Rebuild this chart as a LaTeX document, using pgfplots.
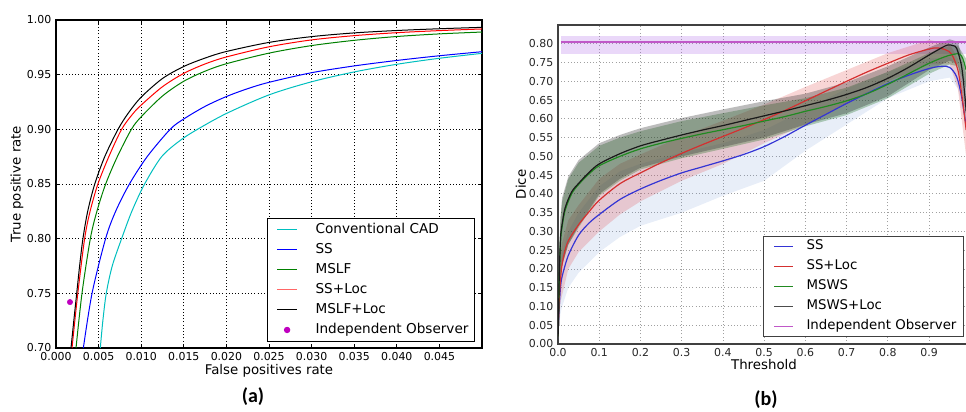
\documentclass[border=0pt]{standalone}
\usepackage{fontspec}
\setmainfont{DejaVu Sans}
\newfontfamily\capfont{Carlito}
\usepackage{pgfplots}
\pgfplotsset{compat=1.18}

\definecolor{mcyan}{HTML}{00BFBF}
\definecolor{mgreen}{HTML}{008000}
\definecolor{mmag}{HTML}{BF00BF}
\definecolor{bblue}{HTML}{3434D4}
\definecolor{bred}{HTML}{D43030}
\definecolor{bgreen}{HTML}{218A21}
\definecolor{bblack}{HTML}{1A1A1A}
\definecolor{bviolet}{HTML}{C058C8}
\definecolor{obsband}{HTML}{AA64E6}
\definecolor{blueband}{HTML}{6E93D6}
\definecolor{redband}{HTML}{E04040}
\definecolor{greenband}{HTML}{1A6B1A}
\definecolor{grayband}{HTML}{222222}
\definecolor{gridb}{HTML}{A0A0A0}

\pgfplotsset{
  band/.style={draw=none, fill=#1, forget plot},
  limga/.style={legend image code/.code={\path (0pt,0pt);
    \draw[draw=#1, line width=0.75pt] (2.25pt,0pt) -- (17.25pt,0pt);}},
  limgb/.style={legend image code/.code={\path (0pt,0pt);
    \draw[draw=#1, line width=0.8pt] (2.25pt,0pt) -- (16.5pt,0pt);}},
}

\begin{document}
\begin{tikzpicture}
\path[use as bounding box] (0pt,0pt) rectangle (724.5pt,308.25pt);

% ---------------- (a) ROC ----------------
\begin{axis}[
  at={(42pt,47.25pt)}, anchor=south west,
  scale only axis, width=319.5pt, height=246pt,
  xmin=0, xmax=0.05, ymin=0.70, ymax=1.00,
  xtick={0,0.005,0.01,0.015,0.02,0.025,0.03,0.035,0.04,0.045},
  ytick={0.70,0.75,0.80,0.85,0.90,0.95,1.00},
  scaled x ticks=false, scaled y ticks=false,
  x tick label style={/pgf/number format/.cd, fixed, fixed zerofill, precision=3, assume math mode=true, /tikz/.cd},
  y tick label style={/pgf/number format/.cd, fixed, fixed zerofill, precision=2, assume math mode=true, /tikz/.cd},
  tick label style={font=\fontsize{8.2}{9}\selectfont},
  grid=major, grid style={black, line width=0.6pt, dash pattern=on 0.8pt off 1.6pt},
  tick align=inside, major tick length=3pt, tick style={black, line width=0.6pt},
  axis line style={line width=0.9pt},
  xlabel={False positives rate}, ylabel={True positive rate},
  label style={font=\fontsize{8.4}{10}\selectfont},
  every axis x label/.style={at={(axis description cs:0.5,-0.0701)}, anchor=center},
  every axis y label/.style={at={(axis description cs:-0.0915,0.5)}, anchor=center, rotate=90},
  legend cell align=left,
  legend style={at={(0.9836,0.0183)}, anchor=south east, draw=black, line width=0.75pt,
    inner xsep=4.5pt, inner ysep=3.4pt, row sep=4.5pt,
    font=\fontsize{10.2}{12}\selectfont,
    nodes={inner sep=0pt, text height=7.8pt, text depth=2.7pt},
    /tikz/every odd column/.style={column sep=11.25pt}},
]
\addplot[mcyan, line width=0.75pt, smooth, limga=mcyan] coordinates {
 (0.0052,0.70) (0.0055,0.725) (0.0059,0.75) (0.0066,0.775) (0.0077,0.80)
 (0.0089,0.825) (0.0104,0.85) (0.0124,0.875) (0.0146,0.89) (0.0166,0.90)
 (0.020,0.9145) (0.025,0.9315) (0.030,0.9435) (0.035,0.9525) (0.040,0.9595)
 (0.045,0.965) (0.050,0.9695)};
\addlegendentry{Conventional CAD}
\addplot[blue, line width=0.75pt, smooth, limga=blue] coordinates {
 (0.00321,0.70) (0.00423,0.75) (0.00582,0.80) (0.0070,0.825) (0.00862,0.85)
 (0.0107,0.875) (0.0134,0.90) (0.015,0.9095) (0.0175,0.9210) (0.020,0.9300)
 (0.0225,0.9372) (0.025,0.943) (0.030,0.9518) (0.035,0.958) (0.040,0.963)
 (0.045,0.9673) (0.050,0.971)};
\addlegendentry{SS}
\addplot[mgreen, line width=0.75pt, smooth, limga=mgreen] coordinates {
 (0.00235,0.70) (0.00305,0.75) (0.00403,0.80) (0.0048,0.825) (0.00583,0.85)
 (0.0072,0.875) (0.00885,0.90) (0.010,0.9115) (0.0125,0.9305) (0.015,0.944)
 (0.0175,0.9532) (0.020,0.960) (0.025,0.9697) (0.030,0.9766) (0.035,0.9814)
 (0.040,0.9849) (0.045,0.9873) (0.050,0.989)};
\addlegendentry{MSLF}
\addplot[red, line width=0.75pt, smooth, limga=red!60] coordinates {
 (0.00188,0.70) (0.00256,0.75) (0.00336,0.80) (0.0040,0.825) (0.00492,0.85)
 (0.0062,0.875) (0.0077,0.90) (0.009,0.914) (0.010,0.9222) (0.0125,0.939)
 (0.015,0.9512) (0.0175,0.9598) (0.020,0.9662) (0.025,0.9755) (0.030,0.9818)
 (0.035,0.9857) (0.040,0.9884) (0.045,0.9903) (0.050,0.9918)};
\addlegendentry{SS+Loc}
\addplot[black, line width=0.75pt, smooth, limga=black] coordinates {
 (0.00176,0.70) (0.00209,0.725) (0.00243,0.75) (0.00277,0.775) (0.00316,0.80)
 (0.00372,0.825) (0.00455,0.85) (0.00572,0.875) (0.00728,0.90) (0.0085,0.915)
 (0.010,0.9295) (0.0125,0.9465) (0.015,0.9575) (0.0175,0.9652) (0.020,0.9712)
 (0.025,0.9795) (0.030,0.9848) (0.035,0.9882) (0.040,0.9904) (0.045,0.992)
 (0.050,0.9933)};
\addlegendentry{MSLF+Loc}
\addplot[only marks, mark=*, mark size=2pt, mmag, draw=mmag, fill=mmag,
  legend image code/.code={\path (0pt,0pt) (19.5pt,0pt); \fill[mmag] (9.75pt,0pt) circle[radius=2pt];}]
  coordinates {(0.00164,0.742)};
\addlegendentry{Independent Observer}
\end{axis}

% ---------------- (b) Dice ----------------
\begin{axis}[
  at={(418.5pt,50.25pt)}, anchor=south west,
  scale only axis, width=309.2pt, height=239.25pt,
  xmin=0, xmax=1, ymin=0, ymax=0.85,
  xtick={0,0.1,0.2,0.3,0.4,0.5,0.6,0.7,0.8,0.9},
  ytick={0,0.05,0.1,0.15,0.2,0.25,0.3,0.35,0.4,0.45,0.5,0.55,0.6,0.65,0.7,0.75,0.8},
  scaled x ticks=false, scaled y ticks=false,
  x tick label style={/pgf/number format/.cd, fixed, fixed zerofill, precision=1, assume math mode=true, /tikz/.cd},
  y tick label style={/pgf/number format/.cd, fixed, fixed zerofill, precision=2, assume math mode=true, /tikz/.cd},
  tick label style={font=\fontsize{8.2}{9}\selectfont, black!85},
  grid=major, grid style={gridb, line width=0.6pt, dash pattern=on 0.8pt off 1.6pt},
  major tick length=0pt,
  axis line style={black!75, line width=0.9pt},
  xlabel={Threshold}, ylabel={Dice},
  label style={font=\fontsize{8.2}{10}\selectfont, black!85},
  every axis x label/.style={at={(axis description cs:0.4996,-0.0658)}, anchor=center},
  every axis y label/.style={at={(axis description cs:-0.0897,0.5)}, anchor=center, rotate=90},
  legend cell align=left,
  legend style={at={(0.9847,0.0219)}, anchor=south east, draw=black!75, line width=0.75pt,
    inner xsep=5.25pt, inner ysep=2.25pt, row sep=4.5pt,
    font=\fontsize{10}{12}\selectfont,
    nodes={inner sep=0pt, text height=7.8pt, text depth=2.7pt},
    /tikz/every odd column/.style={column sep=9.75pt}},
]
% observer band
\addplot[band=obsband, fill opacity=0.25] coordinates {
 (0.008,0.774) (1,0.774) (1,0.822) (0.008,0.822)} -- cycle;
% SS band (upper, then lower reversed)
\addplot[band=blueband, fill opacity=0.16] coordinates {
 (0.001,0.07) (0.003,0.15) (0.006,0.20) (0.01,0.24) (0.025,0.30) (0.05,0.35)
 (0.1,0.42) (0.15,0.46) (0.2,0.48) (0.3,0.51) (0.4,0.535) (0.5,0.57) (0.6,0.625)
 (0.7,0.68) (0.8,0.725) (0.9,0.76) (0.95,0.765) (0.97,0.745) (0.99,0.70)
 (0.99,0.58) (0.97,0.68) (0.95,0.71) (0.9,0.70) (0.8,0.655) (0.7,0.585) (0.6,0.515)
 (0.5,0.435) (0.4,0.395) (0.3,0.35) (0.2,0.315) (0.15,0.285) (0.1,0.245)
 (0.05,0.19) (0.025,0.15) (0.01,0.10) (0.006,0.08) (0.003,0.05) (0.001,0.01)} -- cycle;
% SS+Loc band
\addplot[band=redband, fill opacity=0.22] coordinates {
 (0.001,0.09) (0.003,0.18) (0.006,0.24) (0.01,0.27) (0.025,0.33) (0.05,0.37)
 (0.1,0.44) (0.15,0.48) (0.2,0.505) (0.3,0.553) (0.4,0.595) (0.5,0.638) (0.6,0.685)
 (0.7,0.73) (0.8,0.775) (0.9,0.81) (0.95,0.80) (0.97,0.76) (0.99,0.65)
 (0.99,0.50) (0.97,0.68) (0.95,0.745) (0.9,0.745) (0.8,0.70) (0.7,0.64) (0.6,0.585)
 (0.5,0.535) (0.4,0.48) (0.3,0.435) (0.2,0.38) (0.15,0.345) (0.1,0.30)
 (0.05,0.245) (0.025,0.20) (0.01,0.13) (0.006,0.11) (0.003,0.07) (0.001,0.02)} -- cycle;
% MSWS band
\addplot[band=greenband, fill opacity=0.3] coordinates {
 (0.001,0.08) (0.003,0.24) (0.006,0.33) (0.01,0.38) (0.025,0.44) (0.05,0.483)
 (0.1,0.528) (0.15,0.55) (0.2,0.567) (0.3,0.594) (0.4,0.615) (0.5,0.636) (0.6,0.655)
 (0.7,0.683) (0.8,0.725) (0.9,0.775) (0.95,0.795) (0.97,0.795) (0.99,0.76)
 (0.99,0.68) (0.97,0.74) (0.95,0.745) (0.9,0.72) (0.8,0.655) (0.7,0.61) (0.6,0.58)
 (0.5,0.545) (0.4,0.52) (0.3,0.495) (0.2,0.465) (0.15,0.435) (0.1,0.395)
 (0.05,0.31) (0.025,0.265) (0.01,0.21) (0.006,0.17) (0.003,0.10) (0.001,0.02)} -- cycle;
% MSWS+Loc band
\addplot[band=grayband, fill opacity=0.3] coordinates {
 (0.001,0.08) (0.003,0.25) (0.006,0.34) (0.01,0.39) (0.025,0.446) (0.05,0.49)
 (0.1,0.535) (0.15,0.557) (0.2,0.575) (0.3,0.602) (0.4,0.625) (0.5,0.647) (0.6,0.667)
 (0.7,0.697) (0.8,0.74) (0.9,0.79) (0.95,0.812) (0.97,0.805) (0.99,0.72)
 (0.99,0.60) (0.97,0.745) (0.95,0.755) (0.9,0.73) (0.8,0.66) (0.7,0.615) (0.6,0.585)
 (0.5,0.55) (0.4,0.525) (0.3,0.50) (0.2,0.47) (0.15,0.44) (0.1,0.40)
 (0.05,0.315) (0.025,0.265) (0.01,0.21) (0.006,0.17) (0.003,0.10) (0.001,0.02)} -- cycle;

% mean curves
\addplot[bblue, line width=0.9pt, smooth, limgb=bblue] coordinates {
 (0.0,0.02) (0.001,0.05) (0.003,0.10) (0.006,0.15) (0.01,0.18) (0.025,0.236)
 (0.05,0.290) (0.075,0.322) (0.1,0.345) (0.15,0.385) (0.2,0.413) (0.25,0.436)
 (0.3,0.456) (0.35,0.472) (0.4,0.488) (0.45,0.505) (0.5,0.526) (0.55,0.553)
 (0.6,0.583) (0.65,0.612) (0.7,0.641) (0.75,0.668) (0.8,0.694) (0.85,0.716)
 (0.9,0.734) (0.93,0.740) (0.95,0.737) (0.967,0.712) (0.979,0.659) (0.99,0.58)};
\addlegendentry{SS}
\addplot[bred, line width=0.9pt, smooth, limgb=bred] coordinates {
 (0.0,0.02) (0.001,0.05) (0.003,0.12) (0.006,0.17) (0.009,0.205) (0.015,0.24)
 (0.025,0.275) (0.05,0.318) (0.075,0.352) (0.1,0.383) (0.15,0.427) (0.2,0.456)
 (0.25,0.483) (0.3,0.508) (0.35,0.531) (0.4,0.553) (0.45,0.575) (0.5,0.598)
 (0.55,0.622) (0.6,0.648) (0.65,0.674) (0.7,0.700) (0.75,0.725) (0.8,0.748)
 (0.85,0.770) (0.9,0.786) (0.92,0.789) (0.94,0.784) (0.955,0.772) (0.97,0.73)
 (0.98,0.66) (0.99,0.57)};
\addlegendentry{SS+Loc}
\addplot[bgreen, line width=0.9pt, smooth, limgb=bgreen] coordinates {
 (0.0,0.02) (0.001,0.05) (0.003,0.17) (0.006,0.27) (0.009,0.305) (0.017,0.355)
 (0.033,0.40) (0.05,0.425) (0.075,0.453) (0.1,0.475) (0.15,0.500) (0.2,0.520)
 (0.25,0.535) (0.3,0.548) (0.35,0.560) (0.4,0.571) (0.45,0.582) (0.5,0.594)
 (0.55,0.606) (0.6,0.620) (0.65,0.633) (0.7,0.648) (0.75,0.667) (0.8,0.692)
 (0.85,0.720) (0.9,0.748) (0.94,0.766) (0.965,0.773) (0.975,0.772) (0.982,0.76)
 (0.99,0.73)};
\addlegendentry{MSWS}
\addplot[bblack, line width=0.9pt, smooth, limgb=black!70] coordinates {
 (0.0,0.02) (0.001,0.05) (0.003,0.18) (0.006,0.28) (0.009,0.312) (0.017,0.362)
 (0.033,0.405) (0.05,0.428) (0.075,0.457) (0.1,0.480) (0.15,0.507) (0.2,0.528)
 (0.25,0.543) (0.3,0.557) (0.35,0.570) (0.4,0.582) (0.45,0.595) (0.5,0.608)
 (0.55,0.621) (0.6,0.635) (0.65,0.649) (0.7,0.665) (0.75,0.684) (0.8,0.708)
 (0.85,0.737) (0.9,0.770) (0.93,0.789) (0.946,0.797) (0.958,0.795) (0.967,0.788)
 (0.979,0.739) (0.987,0.66) (0.99,0.62)};
\addlegendentry{MSWS+Loc}
\addplot[bviolet, line width=0.9pt, limgb=bviolet] coordinates {(0.008,0.8045) (1,0.8045)};
\addlegendentry{Independent Observer}
\end{axis}

\node[font=\capfont\bfseries\fontsize{15}{17}\selectfont] at (189.75pt,10.5pt) {(a)};
\node[font=\capfont\bfseries\fontsize{15}{17}\selectfont] at (574.5pt,8.25pt) {(b)};
\end{tikzpicture}
\end{document}
